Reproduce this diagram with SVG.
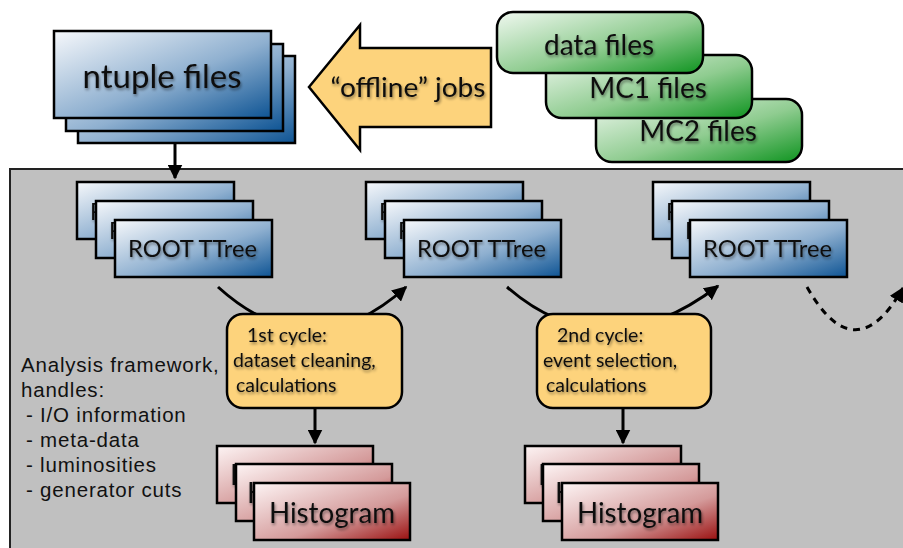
<svg xmlns="http://www.w3.org/2000/svg" width="903" height="548" viewBox="0 0 903 548">
<defs>
<linearGradient id="gBlue" x1="0" y1="0" x2="1" y2="1"><stop offset="0" stop-color="#f6f8fb"/><stop offset="0.55" stop-color="#8fb0d0"/><stop offset="1" stop-color="#0e5494"/></linearGradient>
<linearGradient id="gRed" x1="0" y1="0" x2="1" y2="1"><stop offset="0" stop-color="#fdf4f4"/><stop offset="0.6" stop-color="#d49a9a"/><stop offset="1" stop-color="#9a1010"/></linearGradient>
<linearGradient id="gGreen" x1="0" y1="0" x2="1" y2="1"><stop offset="0" stop-color="#f0f8f0"/><stop offset="0.55" stop-color="#8fcc90"/><stop offset="1" stop-color="#0f9420"/></linearGradient>
<filter id="sh" x="-10%" y="-30%" width="120%" height="160%"><feGaussianBlur in="SourceAlpha" stdDeviation="1.6" result="b"/><feOffset dx="1" dy="2" result="o"/><feComponentTransfer in="o" result="s"><feFuncA type="linear" slope="0.45"/></feComponentTransfer><feMerge><feMergeNode in="s"/><feMergeNode in="SourceGraphic"/></feMerge></filter>
<marker id="ah" viewBox="0 0 10 10" refX="9" refY="5" markerWidth="5" markerHeight="5" orient="auto" markerUnits="strokeWidth"><path d="M0,0 L10,5 L0,10 Z" fill="#000"/></marker>
</defs>
<style>
.blue{fill:url(#gBlue);stroke:#000;stroke-width:2.5}
.red{fill:url(#gRed);stroke:#000;stroke-width:2.5}
.green{fill:url(#gGreen);stroke:#000;stroke-width:2.5}
.cyc{fill:#fdd37c;stroke:#000;stroke-width:2.5}
.t{font-family:Lato,"Open Sans",sans-serif;fill:#111;filter:url(#sh)}
.tt{font-size:23px}
.hist{font-size:28px}
.gf{font-size:28px}
.cy{font-size:19.5px}
.lbl{font-family:"Liberation Sans",Arial,sans-serif;font-size:20.5px;letter-spacing:0.8px;fill:#111}
.con{fill:none;stroke:#000;stroke-width:3;marker-end:url(#ah)}
</style>
<rect x="10" y="169" width="900" height="390" fill="#c0c0c0" stroke="#222" stroke-width="2"/>

<g id="ntuple">
<rect class="blue" x="78" y="56" width="217" height="87"/>
<rect class="blue" x="66" y="44" width="217" height="87"/>
<rect class="blue" x="54" y="31" width="217" height="87"/>
<text class="t" x="162" y="88" font-size="33" text-anchor="middle">ntuple files</text>
</g>

<g id="offline">
<polygon points="309,87 360,25 360,48 491,48 491,127 360,127 360,150" fill="#fdd37c" stroke="#000" stroke-width="2.5" stroke-linejoin="miter"/>
<text class="t" x="408" y="97" font-size="26" text-anchor="middle" textLength="155" lengthAdjust="spacingAndGlyphs">“offline” jobs</text>
</g>

<g id="mc2"><rect class="green" x="596" y="99" width="206" height="63" rx="16"/><text class="t gf" x="698" y="141" text-anchor="middle">MC2 files</text></g>
<g id="mc1"><rect class="green" x="546" y="55" width="206" height="63" rx="16"/><text class="t gf" x="648" y="98" text-anchor="middle">MC1 files</text></g>
<g id="data"><rect class="green" x="497" y="12" width="206" height="61" rx="16"/><text class="t gf" x="599" y="55" text-anchor="middle">data files</text></g>

<g id="connectors">
<line class="con" x1="175" y1="143" x2="175" y2="178"/>
<path class="con" d="M218,287 Q312,372 406,287"/>
<path class="con" d="M507,287 Q605,372 718,286"/>
<path class="con" d="M807,287 Q855,372 903,288" stroke-dasharray="7,6"/>
<line class="con" x1="315" y1="408" x2="315" y2="443"/>
<line class="con" x1="623" y1="408" x2="623" y2="443"/>
</g>

<g id="tree1">
<rect class="blue" x="77" y="182" width="157" height="57"/>
<text class="t tt" x="90" y="220">R</text>
<rect class="blue" x="96" y="201" width="157" height="57"/>
<text class="t tt" x="109" y="239">R</text>
<rect class="blue" x="115" y="220" width="157" height="57"/>
<text class="t tt" x="128" y="257" textLength="129" lengthAdjust="spacingAndGlyphs">ROOT TTree</text>
</g>
<g id="tree2">
<rect class="blue" x="366" y="182" width="157" height="57"/>
<text class="t tt" x="379" y="220">R</text>
<rect class="blue" x="385" y="201" width="157" height="57"/>
<text class="t tt" x="398" y="239">R</text>
<rect class="blue" x="404" y="220" width="157" height="57"/>
<text class="t tt" x="417" y="257" textLength="129" lengthAdjust="spacingAndGlyphs">ROOT TTree</text>
</g>
<g id="tree3">
<rect class="blue" x="653" y="182" width="157" height="57"/>
<text class="t tt" x="666" y="220">R</text>
<rect class="blue" x="672" y="201" width="157" height="57"/>
<text class="t tt" x="685" y="239">R</text>
<rect class="blue" x="690" y="220" width="157" height="57"/>
<text class="t tt" x="703" y="257" textLength="129" lengthAdjust="spacingAndGlyphs">ROOT TTree</text>
</g>

<g id="cycle1">
<rect class="cyc" x="227" y="314" width="175" height="94" rx="16"/>
<text class="t cy"><tspan x="247" y="342">1st cycle:</tspan><tspan x="233" y="367">dataset cleaning,</tspan><tspan x="236" y="392">calculations</tspan></text>
</g>
<g id="cycle2">
<rect class="cyc" x="537" y="314" width="174" height="94" rx="16"/>
<text class="t cy"><tspan x="557" y="342">2nd cycle:</tspan><tspan x="543" y="367">event selection,</tspan><tspan x="546" y="392">calculations</tspan></text>
</g>

<g id="hist1">
<rect class="red" x="217" y="446" width="156" height="57"/>
<text class="t hist" x="230" y="485">H</text>
<rect class="red" x="236" y="464" width="156" height="57"/>
<text class="t hist" x="247" y="503">H</text>
<rect class="red" x="254" y="483" width="156" height="57"/>
<text class="t hist" x="269" y="523" textLength="126" lengthAdjust="spacingAndGlyphs">Histogram</text>
</g>
<g id="hist2">
<rect class="red" x="525" y="446" width="156" height="57"/>
<text class="t hist" x="538" y="485">H</text>
<rect class="red" x="543" y="464" width="156" height="57"/>
<text class="t hist" x="555" y="503">H</text>
<rect class="red" x="562" y="483" width="156" height="57"/>
<text class="t hist" x="577" y="523" textLength="126" lengthAdjust="spacingAndGlyphs">Histogram</text>
</g>

<g id="framework">
<text class="lbl"><tspan x="21" y="372">Analysis framework,</tspan><tspan x="21" y="397">handles:</tspan><tspan x="26" y="422">- I/O information</tspan><tspan x="26" y="447">- meta-data</tspan><tspan x="26" y="472">- luminosities</tspan><tspan x="26" y="497">- generator cuts</tspan></text>
</g>
</svg>
